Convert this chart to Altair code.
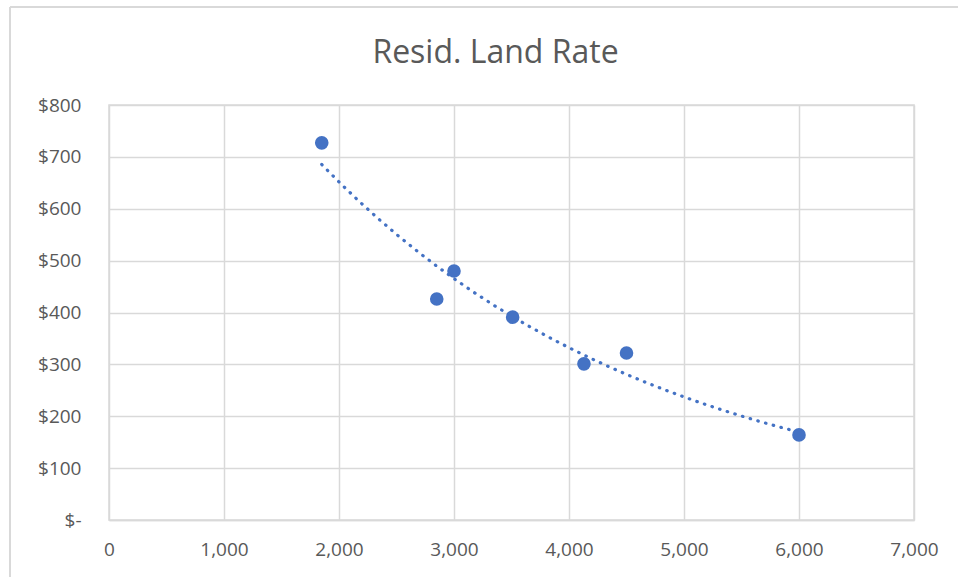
import altair as alt
import pandas as pd

# Data
sizes = [1850, 2850, 3000, 3510, 4130, 4500, 6000]
rates = [727, 426, 480, 391, 301, 322, 164]

df = pd.DataFrame({"size": sizes, "rate": rates})

FONT = "Open Sans"
GRID = "#d9d9d9"
TXT = "#595959"
BLUE = "#4472C4"

x_enc = alt.X("size:Q", scale=alt.Scale(domain=[0, 7000], nice=False),
              axis=alt.Axis(values=list(range(0, 7001, 1000)), title=None,
                            labelExpr="format(datum.value, ',')", labelFlush=False,
                            ticks=False, labelPadding=20, grid=True))
y_enc = alt.Y("rate:Q", scale=alt.Scale(domain=[0, 800], nice=False),
              axis=alt.Axis(values=list(range(0, 801, 100)), title=None, ticks=False,
                            domain=False, labelAlign="right", labelPadding=28,
                            labelExpr="datum.value == 0 ? '$-\u00a0\u00a0' : '$' + format(datum.value, ',')"))

points = alt.Chart(df).mark_circle(size=185, opacity=1, color=BLUE).encode(x=x_enc, y=y_enc)

# Exponential trendline (least squares on ln(y), as in a spreadsheet trendline)
trend = alt.Chart(df).transform_calculate(
    lnrate="log(datum.rate)"
).transform_regression("size", "lnrate", method="poly", order=1).transform_calculate(
    rate="exp(datum.lnrate)"
).mark_line(
    color=BLUE, strokeWidth=3.2, strokeDash=[0.5, 7.5], strokeCap="round"
).encode(x=x_enc, y=y_enc)

border_top = alt.Chart(df).mark_rule(color=GRID, strokeWidth=1.5, clip=False).encode(
    x=alt.value(-99), x2=alt.value(900), y=alt.value(-98))
border_left = alt.Chart(df).mark_rule(color=GRID, strokeWidth=1.5, clip=False).encode(
    x=alt.value(-99), y=alt.value(-98), y2=alt.value(500))

chart = alt.layer(border_top, border_left, trend, points).properties(
    width=805, height=415,
    title=alt.TitleParams("Resid. Land Rate", fontSize=32, font=FONT, fontWeight="normal",
                          color=TXT, offset=-89, dx=-16, anchor="middle", baseline="alphabetic"),
    autosize=alt.AutoSizeParams(type="none"),
    padding={"left": 109, "top": 105, "right": 44, "bottom": 57},
    background="white",
).configure_view(stroke=GRID, strokeWidth=1.5).configure_axis(
    gridColor=GRID, gridWidth=1.5, domainColor=GRID, domainWidth=1.5,
    labelFont=FONT, labelFontSize=19, labelColor=TXT
)

chart.save("out.html", embed_options={"renderer": "svg", "actions": False})
